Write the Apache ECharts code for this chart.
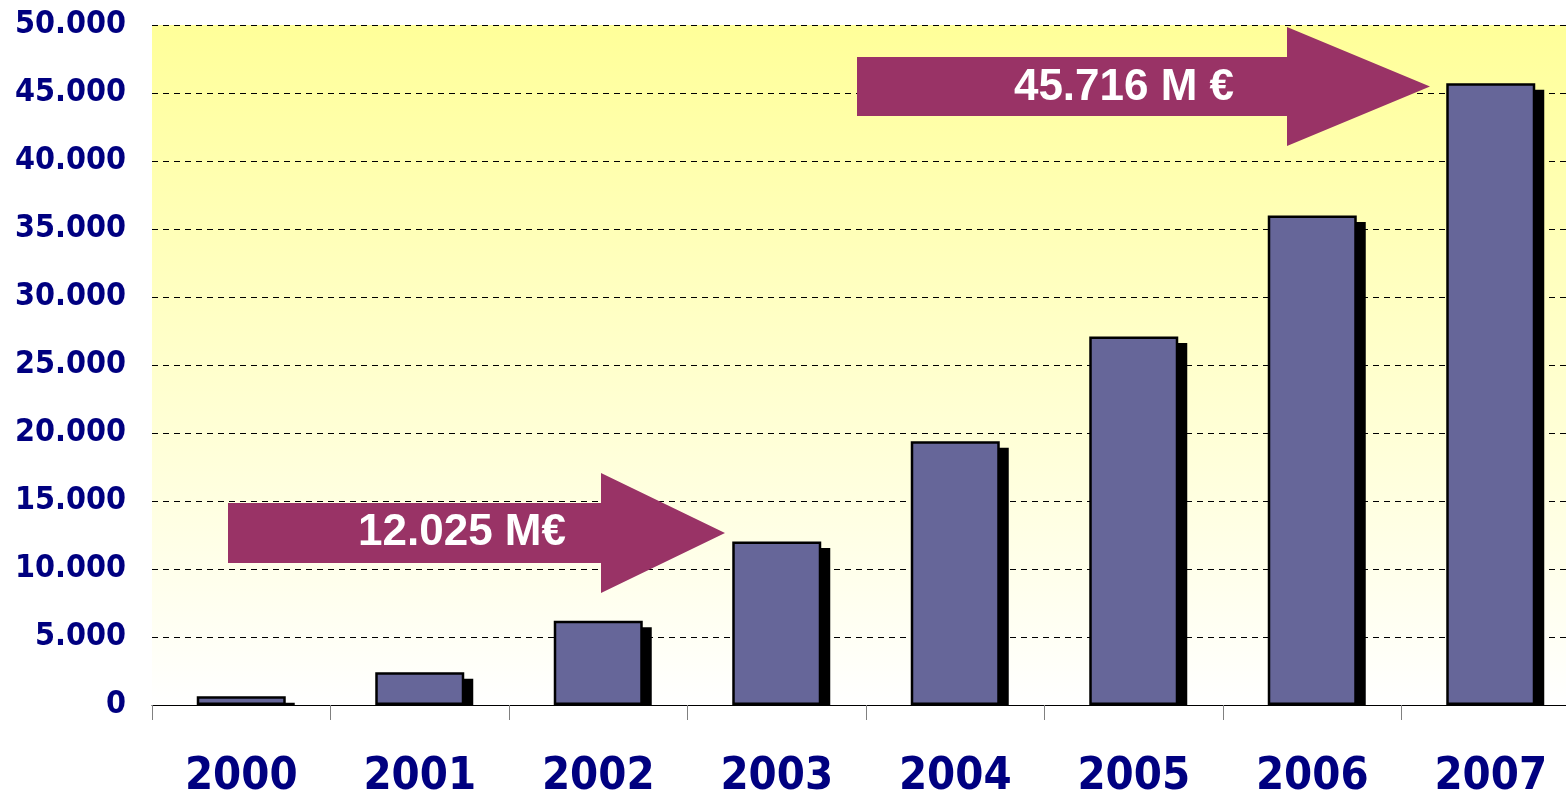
<!DOCTYPE html>
<html><head><meta charset="utf-8">
<script src="https://cdn.jsdelivr.net/npm/echarts@6/dist/echarts.min.js"></script>
<style>html,body{margin:0;padding:0;background:#fff}#c{width:1566px;height:793px}</style>
</head><body><div id="c"></div>
<script>
const categories = ['2000','2001','2002','2003','2004','2005','2006','2007'];
const values = [650, 2400, 6200, 12025, 19400, 27100, 36000, 45716];
const yTicks = [0, 5000, 10000, 15000, 20000, 25000, 30000, 35000, 40000, 45000, 50000];
const annotations = ['12.025 M€', '45.716 M €'];

const chart = echarts.init(document.getElementById('c'), null, {renderer:'canvas'});
function fmt(v){ return v===0 ? '0' : String(v).replace(/(\d)(?=(\d{3})+$)/g,'$1.'); }
const arrowColor = '#993366';
const labelFont = '"DejaVu Sans Condensed", "DejaVu Sans", sans-serif';
function arrow(x0, yTop, yBot, xHead, hTop, hBot, xTip){
  const yMid = (yTop+yBot)/2;
  return [[x0,yTop],[xHead,yTop],[xHead,hTop],[xTip,yMid],[xHead,hBot],[xHead,yBot],[x0,yBot]];
}
chart.setOption({
  animation:false,
  backgroundColor:'#ffffff',
  grid:{left:152, top:25, bottom:88, right:-14, show:true, borderWidth:0, containLabel:false, outerBoundsMode:'none',
    backgroundColor:{type:'linear',x:0,y:0,x2:0,y2:1,colorStops:[{offset:0,color:'#FFFF99'},{offset:1,color:'#FFFFFF'}]}},
  xAxis:{type:'category', data:categories, boundaryGap:true,
    axisLine:{show:true, lineStyle:{color:'#000', width:1}},
    axisTick:{show:true, length:15, lineStyle:{color:'#808080', width:1}},
    axisLabel:{margin:50, fontSize:45, fontWeight:'bold', fontFamily:labelFont, color:'#000080'}},
  yAxis:{type:'value', min:yTicks[0], max:yTicks[yTicks.length-1], interval:yTicks[1]-yTicks[0],
    axisLine:{show:false}, axisTick:{show:false},
    splitLine:{show:true, lineStyle:{color:'#000', width:1, type:[6,5]}},
    axisLabel:{margin:26, fontSize:32, fontWeight:'bold', fontFamily:labelFont, color:'#000080', formatter:fmt}},
  series:[
    {type:'custom', z:1, data:values.map((v,i)=>[i,v]),
      renderItem:function(params, api){
        const top = api.coord([api.value(0), api.value(1)]);
        const base = api.coord([api.value(0), 0]);
        const w = 91;
        const y = top[1] + 6.5;
        return {type:'rect', shape:{x: top[0]-w/2+8, y: y, width: w, height: Math.max(0, base[1]-y)}, style:{fill:'#000'}};
      }},
    {type:'bar', z:2, data:values, barWidth:89,
      itemStyle:{color:'#666699', borderColor:'#000', borderWidth:2.5}}
  ],
  graphic:[
    {type:'polygon', z:100, shape:{points:arrow(228,503,563,601,473,593,725)}, style:{fill:arrowColor}},
    {type:'text', z:101, x:462, y:533, style:{text:annotations[0], fill:'#fff', font:'bold 44px "Liberation Sans", Arial, sans-serif', textAlign:'center', textVerticalAlign:'middle'}},
    {type:'polygon', z:100, shape:{points:arrow(857,57,116,1287,27,146,1430)}, style:{fill:arrowColor}},
    {type:'text', z:101, x:1124, y:88, style:{text:annotations[1], fill:'#fff', font:'bold 44px "Liberation Sans", Arial, sans-serif', textAlign:'center', textVerticalAlign:'middle'}}
  ]
});
</script></body></html>
